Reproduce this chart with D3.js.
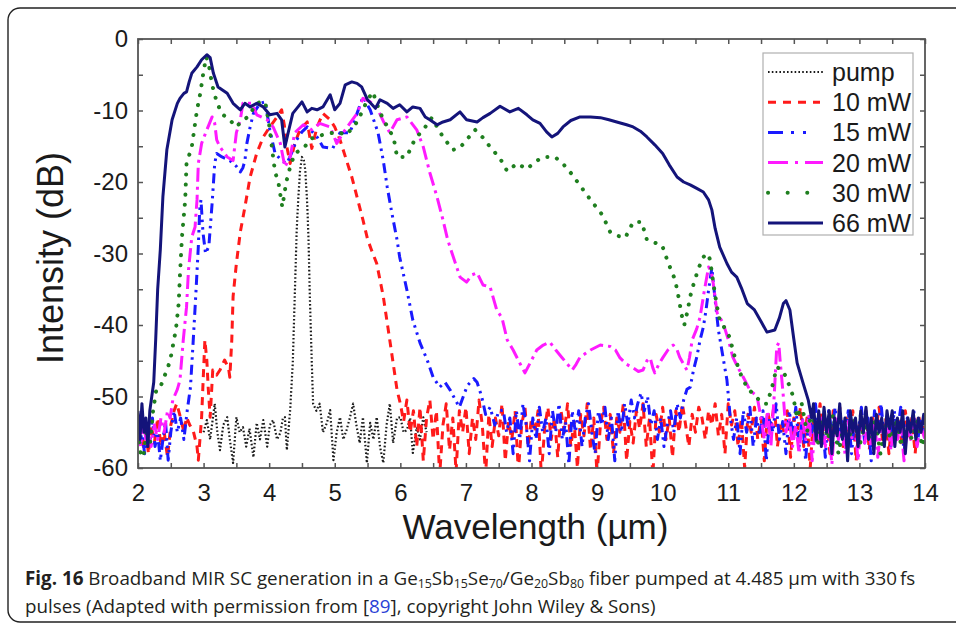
<!DOCTYPE html>
<html>
<head>
<meta charset="utf-8">
<script src="https://cdn.jsdelivr.net/npm/d3@7/dist/d3.min.js"></script>
<style>
  body { margin: 0; background: #fff; }
  svg { display: block; }
  .axis text { font-family: 'Liberation Sans', Arial, sans-serif; font-size: 24px; fill: #1a1a1a; }
  .axis line { stroke: #555; stroke-width: 1.5; }
</style>
</head>
<body>
<svg id="chart" width="956" height="625"></svg>
<script>
// ---- data: [wavelength (um), intensity (dB)] ----
const pump = [
  [3.0, -55], [3.05, -53.3], [3.1, -56], [3.17, -51], [3.21, -55], [3.25, -57.5], [3.3, -54], [3.36, -52.9],
  [3.4, -56], [3.45, -59.3], [3.5, -52.9], [3.55, -55], [3.6, -54.3], [3.65, -57], [3.7, -54.5], [3.76, -58.5],
  [3.81, -53.7], [3.86, -56], [3.91, -53.3], [3.97, -57], [4.01, -54], [4.06, -53.3], [4.12, -56], [4.17, -55.1],
  [4.21, -53], [4.24, -52.9], [4.27, -57.5], [4.32, -51.9], [4.36, -45.3], [4.39, -36], [4.42, -26.7], [4.44, -23],
  [4.47, -18.5], [4.5, -16.5], [4.53, -17], [4.55, -18.3], [4.58, -23], [4.6, -28], [4.62, -36], [4.65, -45.3],
  [4.67, -51], [4.72, -52], [4.77, -51], [4.82, -55], [4.88, -53.7], [4.93, -51.9], [4.98, -58.9], [5.03, -55],
  [5.08, -52.9], [5.13, -56], [5.18, -54.7], [5.23, -53], [5.28, -51], [5.33, -54], [5.38, -56.5], [5.43, -52.9],
  [5.49, -59.3], [5.54, -53.7], [5.59, -56], [5.64, -52.9], [5.69, -57], [5.74, -59.3], [5.79, -54], [5.84, -51],
  [5.89, -56.5], [5.95, -53], [6.0, -52.9], [6.05, -55], [6.1, -54.7], [6.15, -53], [6.19, -57.9], [6.25, -54.3],
  [6.3, -56], [6.35, -52.9], [6.4, -55]
]

const mw10 = [
  [2.0, -56], [2.04, -53], [2.08, -57.5], [2.12, -55], [2.16, -58], [2.2, -54], [2.25, -56.5], [2.3, -53],
  [2.35, -57], [2.4, -55], [2.45, -58.5], [2.5, -54], [2.55, -52], [2.59, -51], [2.65, -53], [2.7, -55],
  [2.74, -52.9], [2.79, -54], [2.84, -54.7], [2.9, -57], [2.92, -58.9], [2.97, -52.9], [3.0, -46.3], [3.02, -42.1],
  [3.05, -45], [3.07, -48.7], [3.1, -52.9], [3.14, -46.3], [3.2, -47], [3.25, -46.3], [3.32, -44.9], [3.38, -46],
  [3.4, -47.3], [3.43, -42.1], [3.45, -36], [3.5, -31.4], [3.56, -27], [3.63, -23.5], [3.71, -19.3], [3.81, -16],
  [3.91, -13.7], [4.01, -12.3], [4.12, -10.9], [4.19, -9.9], [4.23, -12], [4.27, -15.1], [4.32, -17.4], [4.39, -14.6],
  [4.47, -12.7], [4.58, -11.6], [4.65, -15.3], [4.73, -12.3], [4.82, -10.4], [4.93, -11.3], [5.0, -12.3], [5.08, -14.1],
  [5.18, -17], [5.26, -19.3], [5.34, -22.1], [5.43, -25.3], [5.5, -28], [5.56, -29.5], [5.64, -31.4], [5.74, -36],
  [5.81, -40.3], [5.89, -45.3], [5.95, -49.1], [6.0, -51], [6.05, -53.5], [6.1, -50.5], [6.15, -55], [6.2, -52],
  [6.25, -57], [6.3, -51.5], [6.35, -59], [6.4, -53], [6.45, -50.5], [6.5, -56], [6.55, -52], [6.6, -61],
  [6.65, -54], [6.7, -51], [6.75, -57.5], [6.8, -53], [6.85, -60.5], [6.9, -52], [6.95, -55], [7.0, -51.5],
  [7.05, -58], [7.1, -53], [7.15, -56], [7.2, -50.5], [7.25, -54], [7.3, -61], [7.35, -52.5], [7.4, -57],
  [7.45, -53], [7.5, -55.5], [7.55, -51], [7.6, -59], [7.65, -53.5], [7.7, -56], [7.75, -52], [7.8, -60.5],
  [7.85, -54], [7.9, -51.5], [7.95, -57], [8.0, -53], [8.05, -55], [8.1, -52], [8.15, -61], [8.2, -54.5],
  [8.25, -51.5], [8.3, -56], [8.35, -53], [8.4, -58.5], [8.45, -52], [8.5, -55], [8.55, -51], [8.6, -57],
  [8.65, -53.5], [8.7, -60], [8.75, -52.5], [8.8, -55.5], [8.85, -51], [8.9, -57.5], [8.95, -53], [9.0, -61],
  [9.05, -54], [9.1, -51.5], [9.15, -56], [9.2, -52.5], [9.25, -58], [9.3, -53], [9.35, -55], [9.4, -51],
  [9.45, -59], [9.5, -53.5], [9.55, -56.5], [9.6, -52], [9.65, -54.5], [9.7, -51], [9.75, -57], [9.8, -53],
  [9.85, -61], [9.9, -52.5], [9.95, -55], [10.0, -51.5], [10.05, -56], [10.1, -53], [10.15, -58.5], [10.2, -52],
  [10.25, -55], [10.3, -51], [10.35, -54], [10.4, -57], [10.45, -52.5], [10.5, -55], [10.55, -51.5], [10.6, -53],
  [10.65, -56], [10.7, -52], [10.75, -54], [10.8, -51], [10.85, -55.5], [10.9, -52.5], [10.95, -58], [11.0, -51],
  [11.05, -54], [11.1, -52], [11.15, -57], [11.2, -53], [11.25, -60], [11.3, -52.5], [11.35, -55], [11.4, -51.5],
  [11.45, -56], [11.5, -53], [11.55, -59], [11.6, -52], [11.65, -54.5], [11.7, -51], [11.75, -57], [11.8, -53.5],
  [11.85, -55], [11.9, -52], [11.95, -58.5], [12.0, -53], [12.05, -55.5], [12.1, -51.5], [12.15, -57], [12.2, -53],
  [12.25, -60], [12.3, -52.5], [12.35, -55], [12.4, -51], [12.45, -56.5], [12.5, -53], [12.55, -58], [12.6, -52],
  [12.65, -54.5], [12.7, -51.5], [12.75, -57], [12.8, -53], [12.85, -55.5], [12.9, -52], [12.95, -59], [13.0, -53.5],
  [13.05, -55], [13.1, -52], [13.15, -57.5], [13.2, -53], [13.25, -55], [13.3, -51.5], [13.35, -56], [13.4, -53],
  [13.45, -58], [13.5, -52.5], [13.55, -55], [13.6, -53], [13.65, -57], [13.7, -52], [13.75, -55.5], [13.8, -53],
  [13.85, -58], [13.9, -52.5], [13.95, -55], [14.0, -53]
]

const mw15 = [
  [2.0, -53], [2.03, -57], [2.06, -54.7], [2.1, -58], [2.14, -55], [2.18, -56.5], [2.22, -53], [2.26, -57],
  [2.3, -55], [2.34, -59], [2.38, -56], [2.42, -53.5], [2.46, -58.9], [2.5, -55], [2.55, -52], [2.6, -55],
  [2.65, -53], [2.7, -56], [2.75, -52], [2.8, -48.7], [2.84, -42.5], [2.88, -36], [2.92, -29], [2.94, -24],
  [2.96, -22.5], [2.99, -27], [3.03, -30], [3.08, -29], [3.13, -23], [3.17, -17.4], [3.2, -16], [3.28, -16.5],
  [3.4, -17], [3.5, -17.8], [3.56, -18.6], [3.6, -18], [3.63, -17], [3.66, -14.6], [3.71, -12.3], [3.76, -10.4],
  [3.86, -9], [3.94, -8.8], [4.01, -12.7], [4.09, -16], [4.19, -17], [4.27, -17.4], [4.34, -16], [4.42, -14.1],
  [4.5, -13], [4.58, -12.3], [4.66, -13], [4.73, -13.7], [4.82, -15.1], [4.97, -15.3], [5.08, -13.1], [5.23, -13.1],
  [5.34, -10.4], [5.43, -8.1], [5.54, -9.9], [5.66, -13.1], [5.74, -17], [5.8, -20.7], [5.87, -24.3], [5.95, -28.1],
  [5.99, -30.5], [6.1, -35.1], [6.19, -39.3], [6.3, -42.5], [6.41, -44.9], [6.5, -47.3], [6.6, -48.7], [6.68, -48],
  [6.76, -49.1], [6.84, -50.5], [6.9, -51.5], [6.96, -50], [7.02, -48.5], [7.06, -48.1], [7.12, -47.5], [7.17, -48],
  [7.24, -50], [7.3, -52.5], [7.37, -51.5], [7.44, -54], [7.5, -52], [7.57, -51.9], [7.62, -55], [7.67, -53],
  [7.72, -58], [7.77, -52], [7.82, -56], [7.87, -51], [7.92, -54], [7.97, -59], [8.02, -53], [8.07, -56],
  [8.12, -51.5], [8.17, -55], [8.22, -53], [8.27, -58], [8.32, -52], [8.37, -55], [8.42, -51], [8.47, -56],
  [8.52, -53.5], [8.57, -59.5], [8.62, -52], [8.67, -55], [8.72, -52], [8.77, -57], [8.82, -53], [8.87, -51],
  [8.92, -55], [8.97, -58], [9.02, -52], [9.07, -54], [9.12, -51.5], [9.17, -56], [9.22, -53], [9.27, -59],
  [9.32, -52], [9.37, -55], [9.42, -51], [9.47, -54], [9.52, -50.5], [9.57, -53], [9.62, -51], [9.67, -49.5],
  [9.72, -52], [9.77, -50], [9.82, -54], [9.87, -52], [9.92, -56], [9.97, -53], [10.02, -57], [10.07, -54],
  [10.12, -52], [10.17, -55], [10.22, -51], [10.27, -53], [10.32, -50.5], [10.37, -49], [10.42, -48.7], [10.47, -46.3],
  [10.52, -44.5], [10.57, -42.1], [10.62, -40.3], [10.66, -38], [10.7, -35.1], [10.75, -32], [10.8, -36.5], [10.85, -40.7],
  [10.92, -44.5], [10.98, -47.7], [11.03, -52.9], [11.08, -56], [11.13, -53], [11.18, -58], [11.23, -52], [11.28, -55],
  [11.33, -51.5], [11.38, -57], [11.43, -53], [11.48, -55.5], [11.53, -52], [11.58, -59], [11.63, -53], [11.68, -55],
  [11.73, -51], [11.78, -56], [11.83, -53.5], [11.88, -58], [11.93, -52], [11.98, -55], [12.03, -51.5], [12.08, -57],
  [12.13, -53], [12.18, -59], [12.23, -52.5], [12.28, -55], [12.33, -51], [12.38, -56], [12.43, -53], [12.48, -58.5],
  [12.53, -52], [12.58, -55], [12.63, -51.5], [12.68, -57], [12.73, -53], [12.78, -55.5], [12.83, -52], [12.88, -58],
  [12.93, -53], [12.98, -55], [13.03, -51.5], [13.08, -56.5], [13.13, -53], [13.18, -59], [13.23, -52], [13.28, -55],
  [13.33, -51], [13.38, -56], [13.43, -53.5], [13.48, -57], [13.53, -52], [13.58, -55], [13.63, -51.5], [13.68, -58],
  [13.73, -53], [13.78, -55.5], [13.83, -52], [13.88, -57], [13.93, -53], [14.0, -55]
]

const mw20 = [
  [2.0, -55], [2.04, -57], [2.08, -53], [2.12, -56], [2.16, -54.7], [2.2, -57], [2.25, -54], [2.3, -56],
  [2.35, -53], [2.4, -55], [2.45, -52], [2.49, -53], [2.53, -50.5], [2.6, -49], [2.64, -47.7], [2.69, -42.1],
  [2.74, -37.5], [2.77, -32.3], [2.82, -27.7], [2.87, -26.3], [2.9, -22.5], [2.92, -17.4], [2.97, -14.6], [3.05, -12.7],
  [3.13, -10.9], [3.17, -11.8], [3.2, -14.1], [3.25, -15.1], [3.36, -16.5], [3.45, -17], [3.5, -13.1], [3.56, -11.3],
  [3.6, -9], [3.74, -9], [3.81, -10.6], [3.97, -11.3], [4.06, -12.3], [4.17, -14.6], [4.24, -17.9], [4.32, -16.5],
  [4.39, -13.1], [4.52, -12], [4.65, -12.7], [4.77, -11.8], [4.93, -12.3], [5.03, -14.6], [5.13, -13.1], [5.23, -11.8],
  [5.34, -10.4], [5.43, -8.3], [5.54, -8.8], [5.64, -9.5], [5.74, -11.5], [5.84, -13.1], [5.95, -11.3], [6.1, -10.9],
  [6.25, -12.7], [6.35, -15.1], [6.45, -18.7], [6.56, -22.1], [6.65, -25.3], [6.72, -28], [6.79, -30], [6.91, -33.3],
  [7.01, -34], [7.09, -33], [7.17, -32.7], [7.26, -34.4], [7.37, -34.7], [7.47, -37.9], [7.55, -39], [7.63, -42.1],
  [7.72, -43.5], [7.82, -45.3], [7.9, -46.7], [7.98, -45.3], [8.08, -43.5], [8.18, -42.8], [8.28, -42.4], [8.37, -43.5],
  [8.46, -44.5], [8.55, -45.5], [8.62, -46.3], [8.68, -45.5], [8.74, -44.5], [8.82, -44], [8.9, -43.5], [9.05, -42.8],
  [9.2, -43], [9.28, -43.5], [9.35, -44.6], [9.45, -45.5], [9.55, -46], [9.63, -46.5], [9.7, -46.3], [9.76, -45],
  [9.81, -44.6], [9.85, -46], [9.88, -46.7], [9.94, -45.5], [10.0, -44.6], [10.08, -43.5], [10.16, -42.8], [10.22, -43.5],
  [10.26, -44.5], [10.32, -45.5], [10.37, -46.3], [10.41, -44.5], [10.45, -42.1], [10.52, -40.5], [10.57, -38.9], [10.63, -35.5],
  [10.7, -31.9], [10.74, -32.5], [10.77, -34.1], [10.83, -38.3], [10.92, -39.7], [11.0, -42], [11.07, -44.5], [11.15, -46],
  [11.23, -47.3], [11.33, -49.1], [11.44, -50], [11.5, -53], [11.55, -56], [11.6, -52], [11.65, -57], [11.7, -50],
  [11.74, -43], [11.77, -42.5], [11.79, -44.9], [11.84, -50], [11.88, -55], [11.93, -53], [11.98, -57], [12.03, -54],
  [12.08, -58], [12.13, -53], [12.18, -56], [12.23, -52.5], [12.28, -59], [12.33, -54], [12.38, -56.5], [12.43, -53],
  [12.48, -57], [12.53, -54], [12.58, -59.5], [12.63, -53], [12.68, -56], [12.73, -54], [12.78, -58], [12.83, -53.5],
  [12.88, -56], [12.93, -54], [12.98, -59], [13.03, -53], [13.08, -56.5], [13.13, -54], [13.18, -57], [13.23, -53],
  [13.28, -58.5], [13.33, -54], [13.38, -56], [13.43, -53], [13.48, -57.5], [13.53, -54], [13.58, -56], [13.63, -53.5],
  [13.68, -59], [13.73, -54], [13.78, -56], [13.83, -53], [13.88, -57], [13.93, -54], [14.0, -56]
]

const mw30 = [
  [2.0, -55], [2.04, -58], [2.08, -58.5], [2.13, -55], [2.18, -57], [2.23, -52], [2.28, -49], [2.34, -48.7],
  [2.39, -47.5], [2.44, -46.3], [2.49, -45], [2.53, -43], [2.58, -40.5], [2.62, -37], [2.64, -33], [2.67, -27.7],
  [2.72, -22.5], [2.74, -17.4], [2.82, -15.1], [2.9, -9.9], [2.95, -7.6], [3.0, -4.5], [3.04, -2.5], [3.08, -3.6],
  [3.13, -6.4], [3.2, -8.8], [3.28, -10.5], [3.36, -11], [3.45, -11.8], [3.5, -12.3], [3.58, -11.5], [3.66, -11],
  [3.74, -10], [3.81, -9], [3.88, -8.8], [3.94, -8.8], [4.0, -12], [4.06, -16.5], [4.09, -18.6], [4.14, -20],
  [4.2, -23.5], [4.26, -20], [4.32, -17.9], [4.39, -16], [4.52, -15.3], [4.65, -13.9], [4.82, -13.4], [5.03, -13],
  [5.18, -13.4], [5.34, -11.6], [5.43, -9.9], [5.5, -8.5], [5.58, -7.4], [5.66, -9.5], [5.74, -11.3], [5.82, -12.5],
  [5.9, -13.9], [5.95, -16.5], [6.1, -16.5], [6.17, -15], [6.23, -13.9], [6.35, -12.7], [6.48, -11], [6.56, -12.3],
  [6.65, -13.7], [6.8, -15.5], [6.9, -15.3], [7.02, -14], [7.14, -12.7], [7.26, -13.8], [7.37, -15.1], [7.52, -16.7],
  [7.63, -18.5], [7.78, -17.4], [7.93, -18.2], [8.05, -17.2], [8.18, -16.5], [8.36, -16.5], [8.54, -18], [8.71, -20.1],
  [8.9, -22.5], [9.08, -24.6], [9.2, -27], [9.3, -27.5], [9.43, -27.8], [9.55, -25.6], [9.68, -25.6], [9.76, -28.1],
  [9.88, -28.5], [9.99, -28.8], [10.08, -31.2], [10.19, -33.7], [10.24, -36], [10.29, -38.6], [10.33, -40], [10.38, -38],
  [10.42, -36], [10.48, -34], [10.55, -32], [10.62, -30.5], [10.68, -30], [10.72, -30.8], [10.77, -34], [10.82, -37],
  [10.87, -39.3], [10.95, -40.5], [11.02, -41.7], [11.1, -44.5], [11.18, -46.7], [11.29, -48.8], [11.44, -50.2], [11.52, -51],
  [11.59, -51], [11.66, -49], [11.74, -45.9], [11.83, -46.3], [11.9, -47.7], [11.99, -50], [12.05, -53], [12.12, -51],
  [12.2, -55], [12.28, -52], [12.36, -57], [12.44, -53], [12.52, -56], [12.6, -52.5], [12.68, -58], [12.76, -54],
  [12.84, -56], [12.92, -53], [13.0, -57], [13.08, -54], [13.16, -56], [13.24, -53], [13.32, -58], [13.4, -54],
  [13.48, -56], [13.56, -53], [13.64, -57], [13.72, -54], [13.8, -56], [13.88, -53.5], [13.96, -57], [14.0, -55]
]

const mw66 = [
  [2.0, -52], [2.03, -56], [2.06, -51], [2.09, -55], [2.12, -53], [2.15, -57], [2.18, -52], [2.21, -50],
  [2.24, -48], [2.27, -42], [2.3, -35], [2.34, -29.5], [2.38, -22], [2.44, -15.5], [2.52, -11.3], [2.6, -9],
  [2.64, -8.3], [2.7, -7.6], [2.74, -7.4], [2.78, -6], [2.82, -4.8], [2.9, -3.9], [2.97, -2.9], [3.05, -2.2],
  [3.1, -2.6], [3.15, -4.8], [3.22, -6.7], [3.36, -7.6], [3.45, -9], [3.56, -9.9], [3.63, -9], [3.71, -9.5],
  [3.81, -9], [3.91, -9.5], [4.01, -10.6], [4.12, -10.4], [4.19, -11.3], [4.24, -15.1], [4.29, -13.1], [4.36, -10.4],
  [4.44, -9.5], [4.5, -8.8], [4.58, -10.2], [4.65, -9.7], [4.73, -9.9], [4.82, -9.5], [4.93, -7.8], [5.0, -9.9],
  [5.08, -9], [5.16, -6.4], [5.26, -6.0], [5.34, -6.2], [5.41, -6.7], [5.5, -8.5], [5.62, -9.7], [5.69, -8.5],
  [5.8, -9], [5.89, -9.7], [5.99, -9.2], [6.1, -10.2], [6.19, -9.5], [6.3, -9.7], [6.38, -10.9], [6.45, -11.3],
  [6.56, -12], [6.65, -11.6], [6.76, -11.3], [6.91, -10.2], [7.01, -11.3], [7.17, -11.6], [7.26, -11], [7.37, -10.4],
  [7.52, -9.4], [7.67, -10.2], [7.8, -9.7], [7.93, -10.6], [8.02, -11.3], [8.13, -11.8], [8.23, -13], [8.31, -13.7],
  [8.4, -13.2], [8.48, -12.3], [8.6, -11.4], [8.74, -10.9], [8.9, -10.9], [9.05, -11], [9.18, -11.3], [9.3, -11.6],
  [9.45, -12], [9.55, -12.3], [9.66, -12.9], [9.76, -13.7], [9.88, -14.8], [10.0, -16], [10.1, -17.6], [10.22, -19.3],
  [10.32, -20], [10.42, -20.4], [10.52, -20.9], [10.62, -21.4], [10.7, -22.5], [10.75, -23.9], [10.8, -26.5], [10.87, -29.1],
  [10.98, -31.4], [11.05, -32.6], [11.13, -33.3], [11.2, -34.8], [11.29, -37], [11.4, -37.9], [11.5, -39.5], [11.59, -41],
  [11.71, -40.7], [11.78, -39], [11.84, -37], [11.88, -36.6], [11.94, -37.9], [12.0, -42], [12.05, -45.3], [12.14, -48.1],
  [12.22, -50.5], [12.27, -53], [12.3, -51], [12.34, -56], [12.38, -52], [12.42, -57], [12.46, -51.5], [12.5, -55],
  [12.54, -52], [12.58, -58], [12.62, -53], [12.66, -55.5], [12.7, -51], [12.74, -56], [12.78, -53], [12.82, -59],
  [12.86, -52], [12.9, -55], [12.94, -53], [12.98, -57], [13.02, -52], [13.06, -55], [13.1, -51.5], [13.14, -56],
  [13.18, -53], [13.22, -58], [13.26, -52.5], [13.3, -55], [13.34, -53], [13.38, -57], [13.42, -52], [13.46, -54.5],
  [13.5, -52], [13.54, -57], [13.58, -53], [13.62, -55], [13.66, -52], [13.7, -58], [13.74, -53], [13.78, -55],
  [13.82, -52], [13.86, -56], [13.9, -53], [13.94, -55], [13.98, -52.5], [14.0, -54]
]

const seriesNames = ['pump', '10 mW', '15 mW', '20 mW', '30 mW', '66 mW']
const seriesData = [pump, mw10, mw15, mw20, mw30, mw66]
const xTickLabels = [2, 3, 4, 5, 6, 7, 8, 9, 10, 11, 12, 13, 14]
const yTickLabels = [0, -10, -20, -30, -40, -50, -60]

// ---- line styles (plot pattern, legend pattern) ----
const styles = {
  'pump': { color: '#1a1a1a', width: 2.2, dash: '1.6,2.2', legendDash: '1.6,2.2', cap: 'butt', legendLen: 55 },
  '10 mW': { color: '#ff1a1a', width: 3, dash: '8,6', legendDash: '8,7', cap: 'butt', legendLen: 52 },
  '15 mW': { color: '#1a1aff', width: 3, dash: '10,5,2.5,5,2.5,5', legendDash: '15,8,3,9,3,9', cap: 'butt', legendLen: 47 },
  '20 mW': { color: '#ff1aff', width: 3, dash: '14,5,3,5', legendDash: '20,7,3,7', cap: 'butt', legendLen: 55 },
  '30 mW': { color: '#1f7f1f', width: 4, dash: '0.1,10', legendDash: '0.1,19.5', cap: 'round', legendLen: 42 },
  '66 mW': { color: '#14147a', width: 3, dash: null, legendDash: null, cap: 'butt', legendLen: 55 }
}

const margin = { left: 138, top: 39, right: 925, bottom: 468 }
const svg = d3.select('#chart')

// outer figure box
svg.append('rect')
  .attr('x', 8).attr('y', 8)
  .attr('width', 990).attr('height', 614)
  .attr('rx', 12)
  .attr('fill', 'none')
  .attr('stroke', '#222')
  .attr('stroke-width', 1.4)

const x = d3.scaleLinear().domain([2, 14]).range([margin.left, margin.right])
const y = d3.scaleLinear().domain([-60, 0]).range([margin.bottom, margin.top])

svg.append('clipPath').attr('id', 'plot-clip')
  .append('rect')
  .attr('x', margin.left).attr('y', margin.top)
  .attr('width', margin.right - margin.left)
  .attr('height', margin.bottom - margin.top)

// ---- axes: inward ticks every 0.5 um and 5 dB ----
const xMinor = d3.range(2, 14.01, 0.5)
const yMinor = d3.range(-60, 0.01, 5)
const fmtX = d => (xTickLabels.includes(d) ? String(d) : '')
const fmtY = d => (yTickLabels.includes(d) ? String(d) : '')

svg.append('g').attr('class', 'axis')
  .attr('transform', `translate(0,${margin.bottom})`)
  .call(d3.axisBottom(x).tickValues(xMinor).tickSize(-5).tickPadding(16).tickFormat(fmtX))
svg.append('g').attr('class', 'axis')
  .attr('transform', `translate(0,${margin.top})`)
  .call(d3.axisTop(x).tickValues(xMinor).tickSize(-5).tickFormat(''))
svg.append('g').attr('class', 'axis')
  .attr('transform', `translate(${margin.left},0)`)
  .call(d3.axisLeft(y).tickValues(yMinor).tickSize(-5).tickPadding(10).tickFormat(fmtY))
svg.append('g').attr('class', 'axis')
  .attr('transform', `translate(${margin.right},0)`)
  .call(d3.axisRight(y).tickValues(yMinor).tickSize(-5).tickFormat(''))
svg.selectAll('.axis .domain').remove()
svg.selectAll('.axis .tick text').filter(function () { return this.textContent === '' }).remove()

// ---- spectra ----
const line = d3.line().x(d => x(d[0])).y(d => y(d[1]))
const curves = svg.append('g').attr('clip-path', 'url(#plot-clip)')
seriesNames.forEach((name, i) => {
  const s = styles[name]
  curves.append('path')
    .datum(seriesData[i])
    .attr('d', line)
    .attr('fill', 'none')
    .attr('stroke', s.color)
    .attr('stroke-width', s.width)
    .attr('stroke-dasharray', s.dash)
    .attr('stroke-linecap', s.cap)
    .attr('stroke-linejoin', 'round')
})

// frame
svg.append('rect')
  .attr('x', margin.left).attr('y', margin.top)
  .attr('width', margin.right - margin.left)
  .attr('height', margin.bottom - margin.top)
  .attr('fill', 'none')
  .attr('stroke', '#555')
  .attr('stroke-width', 1.8)

// ---- legend ----
const legend = svg.append('g').attr('transform', 'translate(763,53)')
legend.append('rect')
  .attr('width', 150).attr('height', 182)
  .attr('fill', '#fff')
  .attr('stroke', '#b0b0b0')
  .attr('stroke-width', 1.2)
seriesNames.forEach((name, i) => {
  const s = styles[name]
  const cy = 19 + i * 30.2
  legend.append('line')
    .attr('x1', 5).attr('x2', 5 + s.legendLen)
    .attr('y1', cy).attr('y2', cy)
    .attr('stroke', s.color)
    .attr('stroke-width', s.width)
    .attr('stroke-dasharray', s.legendDash)
    .attr('stroke-linecap', s.cap)
  legend.append('text')
    .attr('x', 69).attr('y', cy)
    .attr('dy', '0.36em')
    .style('font-family', "'Liberation Sans', Arial, sans-serif")
    .style('font-size', '25px')
    .style('fill', '#1a1a1a')
    .text(name)
})

// ---- axis titles ----
svg.append('text')
  .attr('x', (margin.left + margin.right) / 2 + 4)
  .attr('y', 539)
  .attr('text-anchor', 'middle')
  .style('font-family', "'Liberation Sans', Arial, sans-serif")
  .style('font-size', '35px')
  .style('fill', '#1a1a1a')
  .text('Wavelength (\u00b5m)')

svg.append('text')
  .attr('transform', 'translate(63,258) rotate(-90)')
  .attr('text-anchor', 'middle')
  .style('font-family', "'Liberation Sans', Arial, sans-serif")
  .style('font-size', '36px')
  .style('fill', '#1a1a1a')
  .text('Intensity (dB)')

// ---- caption ----
const cap = svg.append('g')
  .style('font-family', "'Open Sans', 'Noto Sans', sans-serif")
  .style('font-size', '19px')
  .style('fill', '#231f20')

const line1 = cap.append('text').attr('transform', 'translate(25,585) scale(0.99,1)')
line1.append('tspan').style('font-weight', 700).text('Fig. 16')
line1.append('tspan').text(' Broadband MIR SC generation in a Ge')
const subs = [['15', 'Sb'], ['15', 'Se'], ['70', '/Ge'], ['20', 'Sb'], ['80', ' fiber pumped at 4.485 \u00b5m with 330\u2009fs']]
subs.forEach(([sub, after]) => {
  line1.append('tspan').attr('dy', 3).style('font-size', '12.5px').text(sub)
  line1.append('tspan').attr('dy', -3).text(after)
})

const line2 = cap.append('text').attr('transform', 'translate(25,613) scale(0.99,1)')
line2.append('tspan').text('pulses (Adapted with permission from [')
line2.append('tspan').style('fill', '#2a3fd6').text('89')
line2.append('tspan').text('], copyright John Wiley & Sons)')
</script>
</body>
</html>
